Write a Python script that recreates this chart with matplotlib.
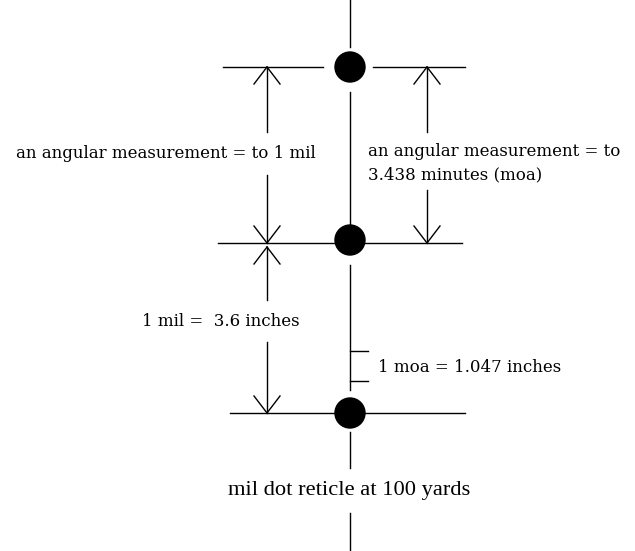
import matplotlib.pyplot as plt
from matplotlib.patches import Circle

# reticle geometry (pixel units of the original drawing)
center_x = 350
dot_y = [67, 240, 413]
dot_r = 15
cross_lines = [(223, 323, 67), (373, 465, 67), (218, 462, 243), (230, 465, 413)]
stem_lines = [(0, 47), (92, 227), (265, 390), (432, 468), (513, 551)]
moa_ticks = [351, 381]

# labels
label_mil = "an angular measurement = to 1 mil"
label_moa = ["an angular measurement = to", "3.438 minutes (moa)"]
label_mil_in = "1 mil =  3.6 inches"
label_moa_in = "1 moa = 1.047 inches"
title = "mil dot reticle at 100 yards"

fig = plt.figure(figsize=(6.35, 5.51), dpi=100)
ax = fig.add_axes([0, 0, 1, 1])
ax.set_xlim(0, 635)
ax.set_ylim(551, 0)
ax.axis('off')

lw = 1.0
k = 'black'

# vertical stem
for y0, y1 in stem_lines:
    ax.plot([center_x, center_x], [y0, y1], color=k, lw=lw)

# horizontal lines
for x0, x1, y in cross_lines:
    ax.plot([x0, x1], [y, y], color=k, lw=lw)

# dots
for y in dot_y:
    ax.add_patch(Circle((center_x, y), dot_r, color=k))

# moa ticks
for y in moa_ticks:
    ax.plot([center_x, 368], [y, y], color=k, lw=lw)


def arrow(x, y_from, y_to):
    # line with open V head at y_to
    ax.plot([x, x], [y_from, y_to], color=k, lw=lw)
    d = 1 if y_to < y_from else -1
    for dx in (-13, 13):
        ax.plot([x, x + dx], [y_to, y_to + d * 17], color=k, lw=lw)


# left dimension (1 mil)
arrow(267, 132, 67)
arrow(267, 175, 243)
# right dimension (moa)
arrow(427, 132, 67)
arrow(427, 190, 243)
# lower dimension
arrow(267, 300, 247)
arrow(267, 342, 413)

font = 'DejaVu Serif'
fs = 12
ax.text(16, 153, label_mil, family=font, fontsize=fs, va='center', ha='left')
ax.text(368, 151, label_moa[0], family=font, fontsize=fs, va='center', ha='left')
ax.text(368, 175, label_moa[1], family=font, fontsize=fs, va='center', ha='left')
ax.text(142, 321, label_mil_in, family=font, fontsize=fs, va='center', ha='left')
ax.text(378, 368, label_moa_in, family=font, fontsize=fs, va='center', ha='left')
ax.text(349, 490, title, family='Liberation Serif', fontsize=16.2,
        va='center', ha='center')

fig.savefig('out.png', dpi=100)
